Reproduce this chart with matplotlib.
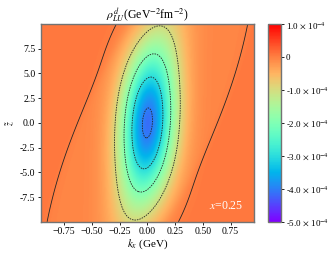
import numpy as np
import matplotlib
matplotlib.use("Agg")
import matplotlib.pyplot as plt

plt.rcParams['font.family'] = ['Liberation Serif', 'DejaVu Serif']
plt.rcParams['mathtext.fontset'] = 'stix'

# axis ranges
kx_range = [-0.96, 0.96]
z_range = [-10.0, 10.0]

# shape of the negative core
core_depth = 4.08e-4       # depth at the centre
core_width_kx = 0.24       # gaussian width in kx
core_width_z = 8.1         # gaussian width in z
ridge_lin = 0.0054         # ridge kx = lin*z + cub*z^3
ridge_cub = 6.1e-5

# zero line: |kx - zero_shear*z| = zero_w0 - zero_w2*z^2
zero_shear = 0.0377
zero_w0 = 0.627
zero_w2 = 0.001
tail = 6e-6

levels = [-4e-4, -3e-4, -2e-4, -1e-4, 0.0]
cbar_ticks = [1e-4, 0, -1e-4, -2e-4, -3e-4, -4e-4, -5e-4]
cbar_labels = [r'1.0 $\times$ 10$^{-4}$', '0', r'-1.0 $\times$ 10$^{-4}$',
               r'-2.0 $\times$ 10$^{-4}$', r'-3.0 $\times$ 10$^{-4}$',
               r'-4.0 $\times$ 10$^{-4}$', r'-5.0 $\times$ 10$^{-4}$']
xticks = [-0.75, -0.5, -0.25, 0.0, 0.25, 0.5, 0.75]
yticks = [-7.5, -5.0, -2.5, 0.0, 2.5, 5.0, 7.5]

kx = np.linspace(kx_range[0], kx_range[1], 300)
z = np.linspace(z_range[0], z_range[1], 300)
KX, Z = np.meshgrid(kx, z)

u1 = KX - (ridge_lin * Z + ridge_cub * Z**3)
core = -core_depth * np.exp(-u1**2 / core_width_kx**2 - Z**2 / core_width_z**2)
u2 = KX - zero_shear * Z
g = u2**2 - (zero_w0 - zero_w2 * Z**2)**2
rho = core + tail * np.tanh(g / 0.05)

fig = plt.figure(figsize=(3.35, 2.58), dpi=100)
ax = fig.add_axes([0.122, 0.140, 0.636, 0.767])
cax = fig.add_axes([0.800, 0.140, 0.039, 0.767])

im = ax.imshow(rho, origin='lower', aspect='auto', cmap='rainbow',
               vmin=-5e-4, vmax=1e-4,
               extent=[kx_range[0], kx_range[1], z_range[0], z_range[1]],
               interpolation='bilinear')
dash = (0, (1.8, 1.2))
ax.contour(KX, Z, rho, levels=levels, colors='0.15', linewidths=0.6,
           linestyles=[dash, dash, dash, dash, 'solid'])

ax.set_xlim(kx_range)
ax.set_ylim(z_range)
ax.set_xticks(xticks)
ax.set_yticks(yticks)
ax.set_yticklabels(['%.1f' % v for v in yticks])
ax.tick_params(labelsize=7, length=2.5, width=0.6, pad=1.5)
for s in ax.spines.values():
    s.set_color('0.45')
    s.set_linewidth(1.0)

ax.set_xlabel(r'$k_x$ (GeV)', fontsize=8, labelpad=1)
ax.set_ylabel(r'$\tilde{z}$', fontsize=7, labelpad=2)
ax.set_title(r'$\rho^d_{LU}$(GeV$^{-2}$fm$^{-2}$)', fontsize=8.5, pad=3)
ax.text(0.948, 0.066, r'$x$=0.25', transform=ax.transAxes, ha='right',
        va='baseline', color='white', fontsize=8.5)

cb = fig.colorbar(im, cax=cax, ticks=cbar_ticks)
cb.ax.set_yticklabels(cbar_labels)
cb.ax.tick_params(labelsize=6.5, length=2, width=0.6, pad=1.5)
cb.outline.set_edgecolor('0.45')
cb.outline.set_linewidth(1.0)

fig.savefig('out.png', dpi=100)
